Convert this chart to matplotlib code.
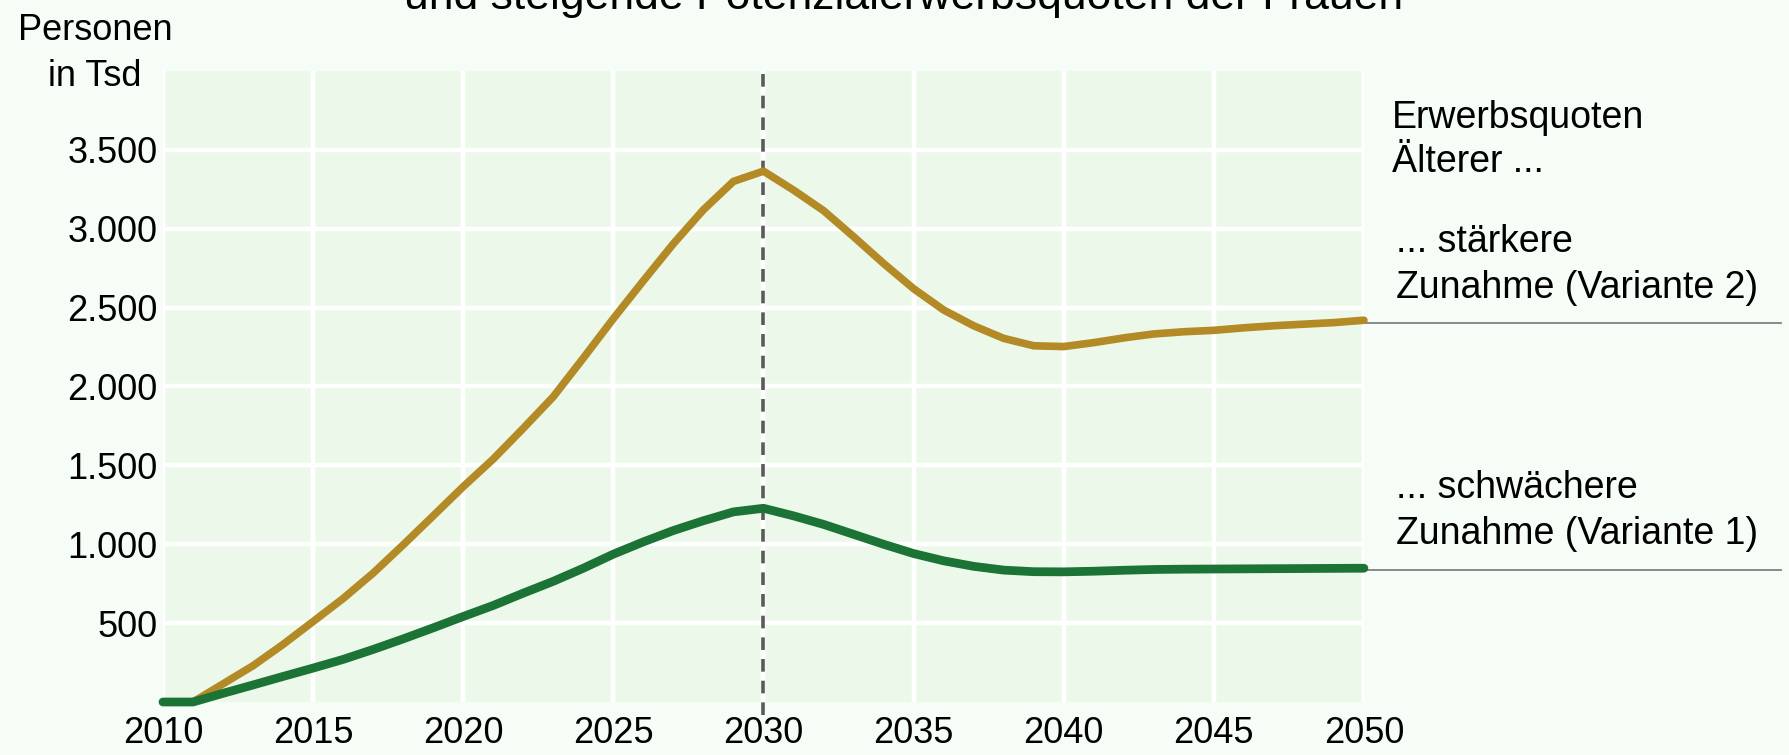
import numpy as np
import matplotlib
matplotlib.use('Agg')
import matplotlib.pyplot as plt

plt.rcParams['font.family'] = ['Liberation Sans', 'DejaVu Sans']

years = list(range(2010, 2051))

# Variante 2: staerkere Zunahme der Erwerbsquoten Aelterer
variante2 = [0, 0, 115, 230, 365, 510, 656, 817, 996, 1180,
             1365, 1540, 1735, 1935, 2180, 2430, 2670, 2905, 3120, 3300,
             3365, 3245, 3115, 2950, 2780, 2620, 2485, 2385, 2305, 2258,
             2253, 2278, 2308, 2333, 2347, 2356, 2372, 2385, 2395, 2405,
             2420]

# Variante 1: schwaechere Zunahme
variante1 = [0, 0, 55, 108, 162, 215, 270, 333, 400, 470,
             542, 612, 690, 765, 848, 937, 1015, 1087, 1149, 1205,
             1228, 1180, 1126, 1063, 1000, 941, 895, 860, 836, 826,
             825, 829, 835, 840, 842, 843, 844, 845, 846, 847,
             848]

yticks = [500, 1000, 1500, 2000, 2500, 3000, 3500]
ytick_labels = ['500', '1.000', '1.500', '2.000', '2.500', '3.000', '3.500']
xticks = list(range(2010, 2051, 5))

gold = '#b38a26'
green = '#1b7435'

fig = plt.figure(figsize=(17.89, 7.55), dpi=100)
fig.patch.set_facecolor('#f6fdf7')
ax = fig.add_axes([0.0911, 0.0702, 0.6713, 0.8358])
ax.set_facecolor('#ecf9ea')

ax.set_xlim(2010, 2050)
ax.set_ylim(0, 4000)
ax.set_xticks(xticks)
ax.set_yticks(yticks)
ax.set_yticklabels(ytick_labels)
ax.tick_params(length=0, labelsize=26)
ax.tick_params(axis='x', pad=10)
ax.tick_params(axis='y', pad=4)
ax.grid(True, color='white', linewidth=3.2)
ax.set_axisbelow(True)
for s in ax.spines.values():
    s.set_visible(False)

ax.axvline(2030, ymin=-0.02, ymax=1.01, color='#5a5a5a', linewidth=2.6,
           linestyle=(0, (3.5, 2.5)), clip_on=False, zorder=2)

ax.plot(years, variante2, color=gold, linewidth=5.5, clip_on=False,
        solid_capstyle='round', zorder=3)
ax.plot(years, variante1, color=green, linewidth=6.3, clip_on=False,
        solid_capstyle='round', zorder=4)

# thin leader lines to the labels on the right
yax = ax.get_yaxis_transform()
for v in (variante2[-1] - 15, variante1[-1] - 10):
    ax.plot([1.0, 1.347], [v, v], transform=yax, color='#808080',
            linewidth=1.3, clip_on=False, zorder=1)

W, H = 1789, 755
def ftext(px, py, s, **kw):
    fig.text(px / W, 1 - py / H, s, va='baseline', **kw)

ftext(904, 9, 'und steigende Potenzialerwerbsquoten der Frauen',
      ha='center', fontsize=32)
ftext(95, 40, 'Personen', ha='center', fontsize=26)
ftext(95, 86, 'in Tsd', ha='center', fontsize=26)

ftext(1392, 128, 'Erwerbsquoten', fontsize=27)
ftext(1392, 172, 'Älterer ...', fontsize=27)
ftext(1396, 252, '... stärkere', fontsize=27)
ftext(1396, 298, 'Zunahme (Variante 2)', fontsize=27)
ftext(1396, 498, '... schwächere', fontsize=27)
ftext(1396, 544, 'Zunahme (Variante 1)', fontsize=27)

fig.savefig('out.png', dpi=100, facecolor=fig.get_facecolor())
